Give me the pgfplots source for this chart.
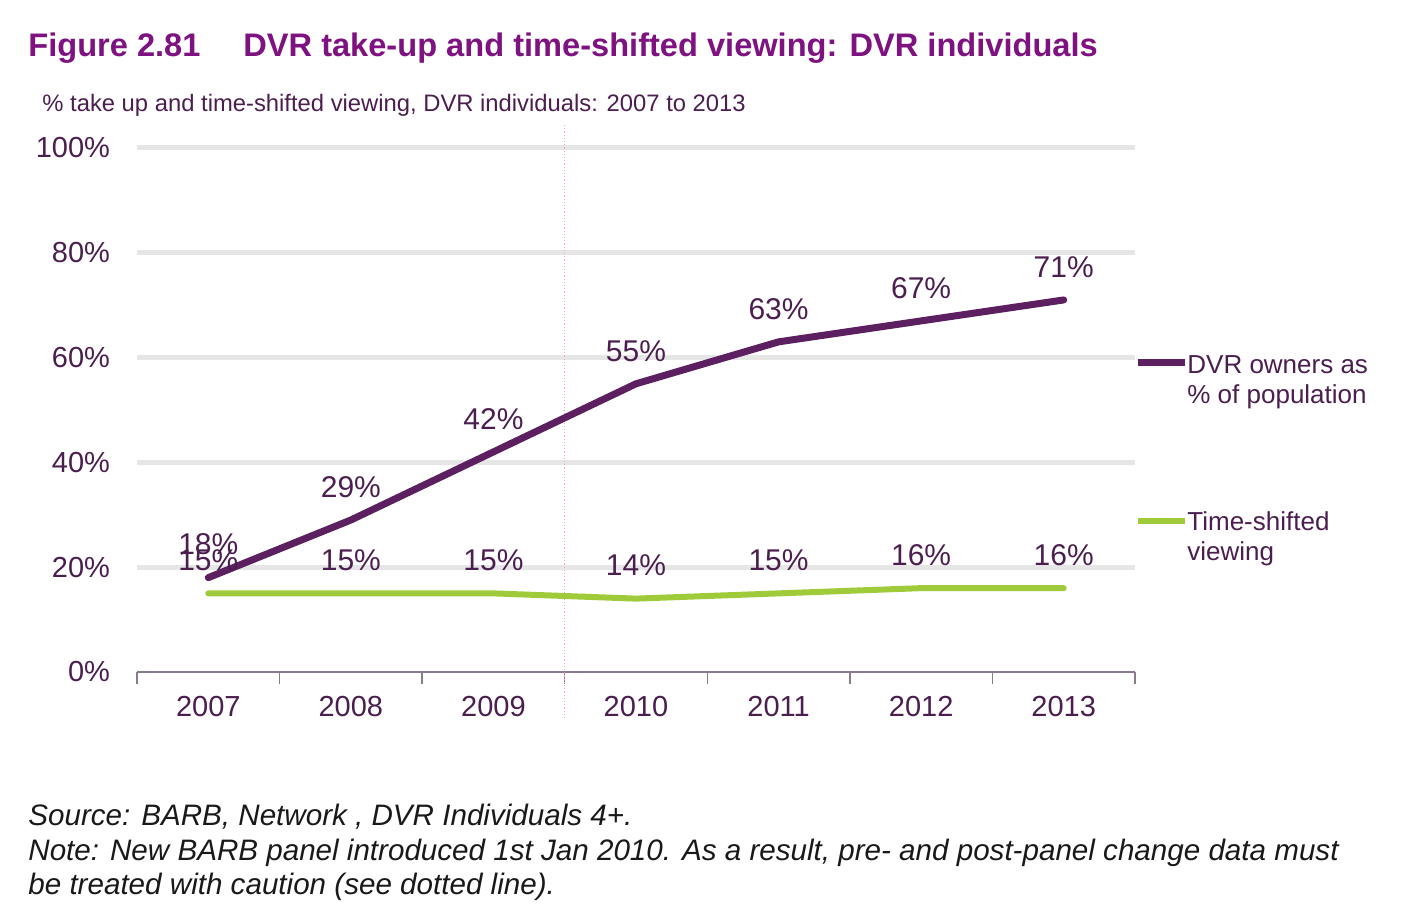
\documentclass[border=0pt]{standalone}
\usepackage{pgfplots}
\pgfplotsset{compat=1.18}
\usepackage{fontspec}
\setmainfont{Liberation Sans}
\definecolor{dvr}{HTML}{5C1F5F}
\definecolor{tsv}{HTML}{9FCB3A}
\definecolor{txt}{HTML}{4B1E4F}
\definecolor{ttl}{HTML}{7D1280}
\definecolor{grd}{HTML}{E6E6E6}
\definecolor{axl}{HTML}{8A7A8C}
\definecolor{dotc}{HTML}{F2A5C0}
\begin{document}
\begin{tikzpicture}
\path[use as bounding box] (0,0) rectangle (712pt,456.5pt);
\begin{axis}[
 at={(68.5pt,120.5pt)}, anchor=south west,
 scale only axis, width=499pt, height=262pt,
 xmin=-0.5, xmax=6.5, ymin=0, ymax=100,
 clip=false,
 /pgf/number format/assume math mode=true,
 axis x line*=bottom, axis y line*=left,
 y axis line style={draw=none},
 x axis line style={draw=axl, line width=0.75pt, -},
 xtick={0,...,6}, xticklabels={2007,2008,2009,2010,2011,2012,2013},
 major tick length=0pt,
 minor xtick={-0.5,0.5,1.5,2.5,3.5,4.5,5.5,6.5},
 minor tick length=6pt, tick align=outside,
 major x tick style={draw=none},
 minor x tick style={draw=axl, line width=0.75pt},
 major y tick style={draw=none},
 ytick={20,40,60,80,100},
 yticklabels={20\%,40\%,60\%,80\%,100\%},
 extra y ticks={0}, extra y tick labels={0\%},
 extra y tick style={grid=none},
 ymajorgrids, grid style={draw=grd, line width=2.5pt},
 xticklabel style={font=\fontsize{14.5pt}{17pt}\selectfont, text=txt, yshift=-8.5pt},
 yticklabel style={font=\fontsize{14.5pt}{17pt}\selectfont, text=txt, xshift=-10pt},
 nodes near coords={\pgfmathprintnumber{\pgfplotspointmeta}\%},
 nodes near coords style={font=\fontsize{15pt}{18pt}\selectfont, text=txt, anchor=center, yshift=16.5pt},
]
\draw[dotc, densely dotted, line width=0.6pt] (axis cs:2.5,104.4) -- (axis cs:2.5,-8.8);
\addplot[tsv, line width=3pt, line join=round, line cap=round] coordinates {(0,15)(1,15)(2,15)(3,14)(4,15)(5,16)(6,16)};
\addplot[dvr, line width=3.5pt, line join=round, line cap=round] coordinates {(0,18)(1,29)(2,42)(3,55)(4,63)(5,67)(6,71)};
\end{axis}
\begin{scope}[x=0.5pt, y=-0.5pt, shift={(0pt,456.5pt)}]
\node[anchor=base west, inner sep=0, text=ttl, font=\fontsize{16.3pt}{19pt}\selectfont\bfseries] at (28,57) {Figure 2.81};
\node[anchor=base west, inner sep=0, text=ttl, font=\fontsize{16.3pt}{19pt}\selectfont\bfseries] at (243,57) {DVR take-up and time-shifted viewing: DVR individuals};
\node[anchor=base west, inner sep=0, text=txt, font=\fontsize{11.9pt}{14pt}\selectfont] at (42,112) {\% take up and time-shifted viewing, DVR individuals: 2007 to 2013};
\draw[dvr, line width=3.5pt] (1138,363) -- (1185,363);
\draw[tsv, line width=3pt] (1138,521) -- (1185,521);
\node[anchor=base west, inner sep=0, text=txt, font=\fontsize{13pt}{15pt}\selectfont] at (1187,374) {DVR owners as};
\node[anchor=base west, inner sep=0, text=txt, font=\fontsize{13pt}{15pt}\selectfont] at (1187,404) {\% of population};
\node[anchor=base west, inner sep=0, text=txt, font=\fontsize{13pt}{15pt}\selectfont] at (1187,531) {Time-shifted};
\node[anchor=base west, inner sep=0, text=txt, font=\fontsize{13pt}{15pt}\selectfont] at (1187,561) {viewing};
\node[anchor=base west, inner sep=0, text=black!90, font=\fontsize{14.8pt}{17pt}\selectfont\itshape] at (28,826) {Source: BARB, Network , DVR Individuals 4+.};
\node[anchor=base west, inner sep=0, text=black!90, font=\fontsize{14.8pt}{17pt}\selectfont\itshape] at (28,861) {Note: New BARB panel introduced 1st Jan 2010. As a result, pre- and post-panel change data must};
\node[anchor=base west, inner sep=0, text=black!90, font=\fontsize{14.8pt}{17pt}\selectfont\itshape] at (28,895) {be treated with caution (see dotted line).};
\end{scope}
\end{tikzpicture}
\end{document}
